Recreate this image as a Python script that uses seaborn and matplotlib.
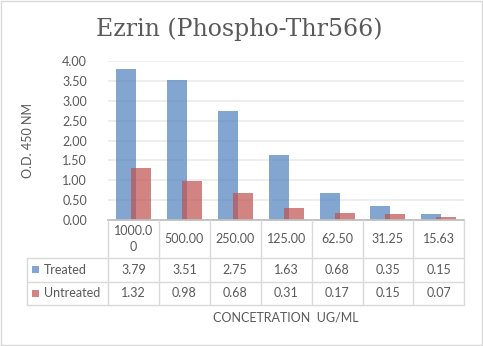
import textwrap

import matplotlib
matplotlib.use("Agg")
import matplotlib.pyplot as plt
import matplotlib.transforms as mtransforms
from matplotlib.lines import Line2D
from matplotlib.patches import Rectangle
import numpy as np
import pandas as pd
import seaborn as sns

# ---- data -------------------------------------------------------------
concentrations = ["1000.00", "500.00", "250.00", "125.00", "62.50", "31.25", "15.63"]
treated = [3.79, 3.51, 2.75, 1.63, 0.68, 0.35, 0.15]
untreated = [1.32, 0.98, 0.68, 0.31, 0.17, 0.15, 0.07]
series_names = ["Treated", "Untreated"]
series_colors = ["#4F81BD", "#C0504D"]
y_ticks = [0.0, 0.5, 1.0, 1.5, 2.0, 2.5, 3.0, 3.5, 4.0]

title = "Ezrin (Phospho-Thr566)"
x_title = "CONCETRATION  UG/ML"
y_title = "O.D. 450 NM"

# ---- style --------------------------------------------------------------
W, H = 483, 346
TEXT = "#595959"
GRID = "#ebebeb"
TABLE_LINE = "#d9d9d9"
BAR_ALPHA = 0.7

sns.set_style("white")
plt.rcParams["font.family"] = ["Lato", "DejaVu Sans"]

fig = plt.figure(figsize=(W / 100, H / 100), dpi=100)
fig.patch.set_facecolor("white")

# plot area in pixels
left, right, top, bottom = 108, 464.3, 61, 220
ax = fig.add_axes([left / W, 1 - bottom / H, (right - left) / W, (bottom - top) / H])

df = pd.DataFrame({
    "conc": concentrations * 2,
    "series": np.repeat(series_names, len(concentrations)),
    "od": treated + untreated,
})

sns.barplot(
    data=df, x="conc", y="od", hue="series",
    order=concentrations, hue_order=series_names,
    palette=series_colors, saturation=1, alpha=BAR_ALPHA,
    width=0.59, gap=-0.332, dodge=True, errorbar=None,
    linewidth=0, legend=False, ax=ax,
)

ax.set_xlim(-0.5, len(concentrations) - 0.5)
ax.set_ylim(0, 4)
ax.set_yticks(y_ticks)
ax.set_yticklabels([f"{v:.2f}" for v in y_ticks])
ax.set_xlabel("")
ax.set_ylabel("")
ax.tick_params(axis="x", bottom=False, labelbottom=False)
ax.tick_params(axis="y", left=False, labelsize=9, labelcolor=TEXT, pad=11.5)
ax.yaxis.grid(True, color=GRID, lw=1.2)
ax.set_axisbelow(True)
for s in ("left", "right", "top"):
    ax.spines[s].set_visible(False)
ax.spines["bottom"].set_color("#bfbfbf")
ax.spines["bottom"].set_linewidth(1.3)
ax.spines["bottom"].set_zorder(5)

# ---- data table under the axis ---------------------------------------------
fig_px = mtransforms.Affine2D().scale(1 / W, -1 / H).translate(0, 1) + fig.transFigure
col_px = mtransforms.blended_transform_factory(ax.transData, fig_px)

header_top, header_bot = 220, 258
row_edges = [258, 281.7, 305]
label_left = 27

n = len(concentrations)
for b in range(n + 1):
    fig.add_artist(Line2D([b - 0.5, b - 0.5], [header_top, row_edges[-1]],
                          transform=col_px, color=TABLE_LINE, lw=1))
for y in row_edges:
    fig.add_artist(Line2D([label_left, right], [y, y], transform=fig_px,
                          color=TABLE_LINE, lw=1))
fig.add_artist(Line2D([label_left, label_left], [row_edges[0], row_edges[-1]],
                      transform=fig_px, color=TABLE_LINE, lw=1))

header_mid = (header_top + header_bot) / 2
for i, c in enumerate(concentrations):
    fig.text(i, header_mid, "\n".join(textwrap.wrap(c, 6)), transform=col_px,
             ha="center", va="center", fontsize=9, color=TEXT, linespacing=1.35)

for r, (name, color, values) in enumerate(zip(series_names, series_colors,
                                               [treated, untreated])):
    y0, y1 = row_edges[r], row_edges[r + 1]
    mid = (y0 + y1) / 2
    fig.add_artist(Rectangle((32, mid - 3.5), 7, 7, transform=fig_px,
                             facecolor=color, alpha=BAR_ALPHA, lw=0))
    fig.text(44, mid, name, transform=fig_px, ha="left", va="center",
             fontsize=9, color=TEXT)
    for i, v in enumerate(values):
        fig.text(i, mid, f"{v:.2f}", transform=col_px, ha="center",
                 va="center", fontsize=9, color=TEXT)

# ---- titles ---------------------------------------------------------------
fig.text((left + right) / 2, 318, x_title, transform=fig_px, ha="center",
         va="center", fontsize=9, color=TEXT)
fig.text(28.5, 141, y_title, transform=fig_px, ha="center", va="center",
         rotation=90, fontsize=9, color=TEXT)
fig.text(239, 29, title, transform=fig_px, ha="center", va="center",
         fontsize=17, color=TEXT, family=["DejaVu Serif"])

# chart frame
fig.add_artist(Rectangle((0.5, 0.5), W - 2, H - 1.5, transform=fig_px,
                         fill=False, edgecolor=TABLE_LINE, lw=1))

fig.savefig("out.png", dpi=100)
